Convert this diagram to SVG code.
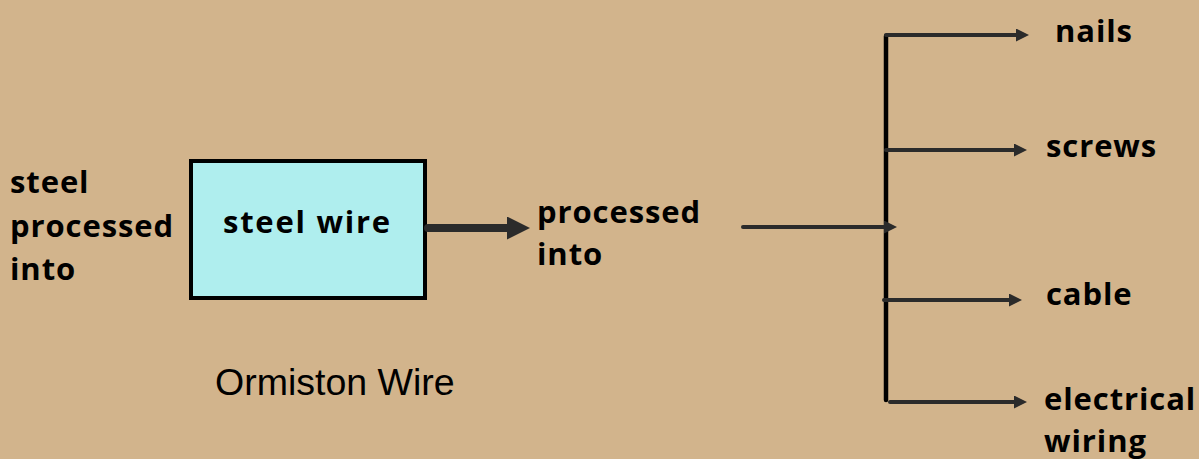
<svg xmlns="http://www.w3.org/2000/svg" width="1199" height="459" viewBox="0 0 1199 459">
  <style>
    .lbl { font-family: "Open Sans", "DejaVu Sans", sans-serif; font-weight: 700; font-size: 31px; fill: #000; letter-spacing: 0.9px; }
    .cap { font-family: "Liberation Sans", Arial, sans-serif; font-size: 37.5px; fill: #000; }
    .box { fill: #AFEEEE; stroke: #000; stroke-width: 4; }
    .branch { stroke: #2b2b2b; stroke-width: 4; stroke-linecap: round; fill: none; }
    .spine { stroke: #000; stroke-width: 4.5; stroke-linecap: round; fill: none; }
    .thick { stroke: #2b2b2b; stroke-width: 8; stroke-linecap: round; fill: none; }
  </style>
  <defs>
    <!-- small arrowhead: base sits just behind the line end, tip 12px past it -->
    <marker id="head" markerUnits="userSpaceOnUse" markerWidth="14" markerHeight="14" refX="1" refY="6.5" orient="auto">
      <path d="M0,0 L13,6.5 L0,13 Z" fill="#2b2b2b"/>
    </marker>
    <!-- large arrowhead for the thick connector -->
    <marker id="headBig" markerUnits="userSpaceOnUse" markerWidth="24" markerHeight="24" refX="3" refY="11.5" orient="auto">
      <path d="M0,0 L23,11.5 L0,23 Z" fill="#2b2b2b"/>
    </marker>
  </defs>

  <rect width="1199" height="459" fill="#D2B48C"/>

  <g id="input-label">
    <text class="lbl" x="10" y="193">steel</text>
    <text class="lbl" x="10" y="237">processed</text>
    <text class="lbl" x="10" y="280">into</text>
  </g>

  <g id="steel-wire">
    <rect class="box" x="191" y="161" width="234" height="137"/>
    <text class="lbl" x="223" y="233" textLength="168" lengthAdjust="spacing">steel wire</text>
  </g>

  <g id="caption">
    <text class="cap" x="215" y="395">Ormiston Wire</text>
  </g>

  <g id="processed-into">
    <text class="lbl" x="537" y="223">processed</text>
    <text class="lbl" x="537" y="265">into</text>
  </g>

  <g id="nails"><text class="lbl" x="1055" y="42">nails</text></g>
  <g id="screws"><text class="lbl" x="1046" y="157">screws</text></g>
  <g id="cable"><text class="lbl" x="1046" y="305">cable</text></g>
  <g id="electrical-wiring">
    <text class="lbl" x="1044" y="410">electrical</text>
    <text class="lbl" x="1044" y="452">wiring</text>
  </g>

  <g id="connectors">
    <line class="thick" x1="428" y1="228" x2="510" y2="228" marker-end="url(#headBig)"/>
    <path class="spine" d="M886,36 V400"/>
    <line class="branch" x1="743" y1="227" x2="885" y2="227" marker-end="url(#head)"/>
    <line class="branch" x1="886" y1="35" x2="1017" y2="35" marker-end="url(#head)"/>
    <line class="branch" x1="886" y1="150" x2="1015" y2="150" marker-end="url(#head)"/>
    <line class="branch" x1="884" y1="300" x2="1010" y2="300" marker-end="url(#head)"/>
    <line class="branch" x1="890" y1="402" x2="1015" y2="402" marker-end="url(#head)"/>
  </g>
</svg>
